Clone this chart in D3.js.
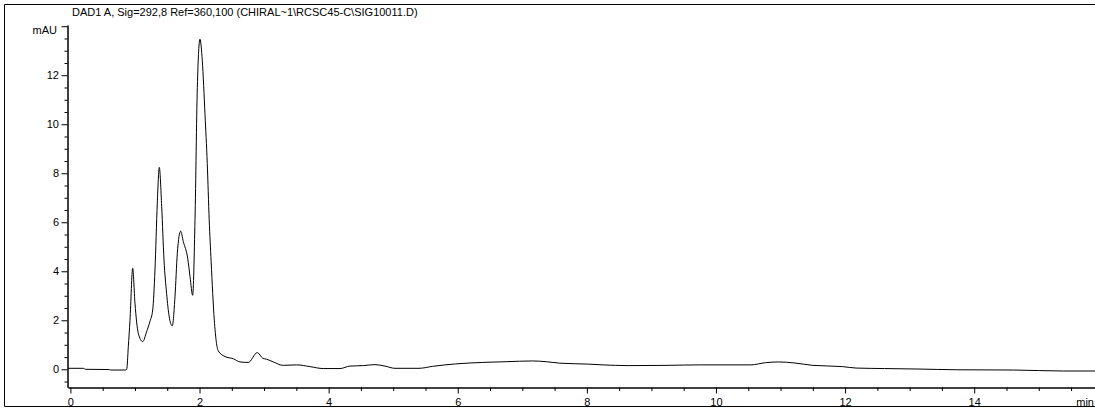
<!DOCTYPE html>
<html>
<head>
<meta charset="utf-8">
<script src="https://cdn.jsdelivr.net/npm/d3@7"></script>
<style>
  html, body { margin: 0; padding: 0; background: #fff; }
  svg { display: block; }
  text { font-family: "Liberation Sans", Arial, sans-serif; font-size: 11px; fill: #000; }
</style>
</head>
<body>
<svg id="chart" width="1095" height="412"></svg>
<script>
// ---- data ----
const titleText = "DAD1 A, Sig=292,8 Ref=360,100 (CHIRAL~1\\RCSC45-C\\SIG10011.D)";
const yUnit = "mAU";
const xUnit = "min";
const times = [
  -0.037, 0.2, 0.23, 0.6, 0.62, 0.85, 0.872, 0.897, 0.923, 0.965,
  1.0, 1.052, 1.12, 1.18, 1.233, 1.275, 1.31, 1.346, 1.377, 1.414,
  1.45, 1.49, 1.53, 1.578, 1.62, 1.656, 1.708, 1.749, 1.817, 1.853,
  1.894, 1.93, 1.966, 2.007, 2.043, 2.085, 2.12, 2.15, 2.18, 2.229, 2.29,
  2.395, 2.523, 2.627, 2.755, 2.895, 2.98, 3.04, 3.143, 3.298, 3.505,
  3.71, 3.917, 4.176, 4.33, 4.537, 4.718, 4.873, 5.028, 5.40, 5.61,
  5.97, 6.38, 6.75, 7.16, 7.37, 7.58, 8.03, 8.25, 8.64, 9.24,
  9.75, 10.54, 10.77, 10.97, 11.21, 11.5, 11.96, 12.17, 12.61, 13.13,
  13.74, 14.61, 15.38, 15.871
];
const signal = [
  0.04, 0.04, 0.0, -0.01, -0.03, -0.03, 0.0, 0.92, 2.0, 4.12,
  2.7, 1.47, 1.13, 1.53, 1.96, 2.42, 4.05, 6.78, 8.24, 6.64,
  4.46, 3.1, 2.15, 1.77, 2.96, 4.73, 5.64, 5.21, 4.53, 3.78,
  3.02, 6.1, 11.5, 13.47, 12.6, 10.4, 8.4, 6.1, 4.4, 2.0, 0.75,
  0.52, 0.43, 0.30, 0.28, 0.68, 0.45, 0.41, 0.30, 0.16, 0.18,
  0.11, 0.03, 0.03, 0.13, 0.15, 0.19, 0.13, 0.04, 0.04, 0.12,
  0.22, 0.28, 0.31, 0.34, 0.31, 0.25, 0.21, 0.18, 0.15, 0.16,
  0.18, 0.18, 0.27, 0.30, 0.26, 0.16, 0.11, 0.05, 0.03, 0.01,
  -0.02, -0.03, -0.07, -0.07
];
const xMajorTicks = [0, 2, 4, 6, 8, 10, 12, 14];
const yMajorTicks = [0, 2, 4, 6, 8, 10, 12];
const yTopTick = 14;

// ---- layout ----
const svg = d3.select("#chart");
const x = d3.scaleLinear().domain([-0.0372, 15.871]).range([68, 1095]);
const y = d3.scaleLinear().domain([-0.735, 14.05]).range([387.3, 25]);

const xMinor = d3.range(0, 15.51, 0.5).filter(v => !xMajorTicks.includes(v));
const yMinor = d3.range(-0.5, 13.51, 0.5).filter(v => !yMajorTicks.includes(v));

// x axis
const gx = svg.append("g").attr("transform", "translate(0,387.5)");
gx.call(d3.axisBottom(x).tickValues(xMajorTicks).tickSize(6).tickSizeOuter(0).tickPadding(5)
  .tickFormat(d3.format("d")));
gx.append("g").call(d3.axisBottom(x).tickValues(xMinor).tickSize(3.5).tickSizeOuter(0).tickFormat(""));
gx.selectAll(".domain").attr("stroke", "#000").attr("stroke-width", 1);
gx.selectAll(".tick line").attr("stroke", "#000");
gx.selectAll(".tick text").attr("font-size", 11).attr("font-family", "Liberation Sans, Arial, sans-serif")
  .attr("fill", "#000").attr("dy", null).attr("y", 18.5);

// x unit label (kept fully inside the window)
svg.append("text").attr("x", 1094).attr("y", 406).attr("text-anchor", "end").text(xUnit);

// y axis
const gy = svg.append("g").attr("transform", "translate(67.5,0)");
gy.call(d3.axisLeft(y).tickValues(yMajorTicks.concat([yTopTick])).tickSize(6).tickSizeOuter(0).tickPadding(3)
  .tickFormat(d => d === yTopTick ? "" : d3.format("d")(d)));
gy.append("g").call(d3.axisLeft(y).tickValues(yMinor).tickSize(3).tickSizeOuter(0).tickFormat(""));
gy.selectAll(".domain").attr("stroke", "#000").attr("stroke-width", 1);
gy.selectAll(".tick line").attr("stroke", "#000");
gy.selectAll(".tick text").attr("font-size", 11).attr("font-family", "Liberation Sans, Arial, sans-serif")
  .attr("fill", "#000").attr("x", -8.5);

// y unit label
svg.append("text").attr("x", 57).attr("y", 34).attr("text-anchor", "end").text(yUnit);

// title
svg.append("text").attr("x", 72).attr("y", 16).text(titleText);

// trace
const pts = times.map((t, i) => [t, signal[i]]);
const line = d3.line().x(d => x(d[0])).y(d => y(d[1])).curve(d3.curveMonotoneX);
svg.append("path").datum(pts).attr("d", line)
  .attr("fill", "none").attr("stroke", "#000").attr("stroke-width", 1);

// frame
svg.append("path")
  .attr("d", "M1095,4.5 H4.5 V406.5 H1095")
  .attr("fill", "none").attr("stroke", "#000").attr("stroke-width", 1);
</script>
</body>
</html>
